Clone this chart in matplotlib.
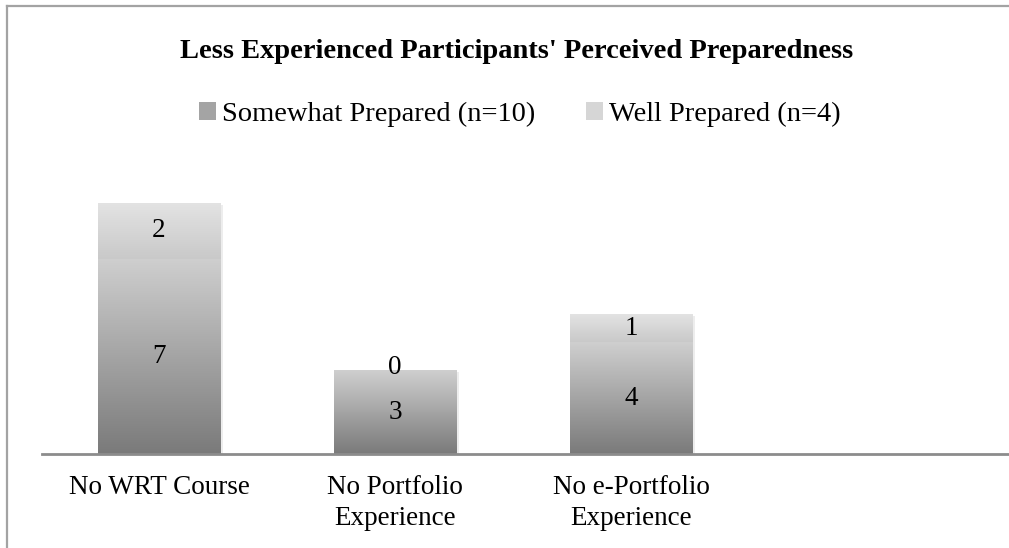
import numpy as np
import matplotlib.pyplot as plt
from matplotlib.colors import LinearSegmentedColormap
from matplotlib.patches import Patch, Rectangle
from matplotlib.lines import Line2D

categories = ['No WRT Course', 'No Portfolio\nExperience', 'No e-Portfolio\nExperience']
somewhat = [7, 3, 4]
well = [2, 0, 1]
series_names = ['Somewhat Prepared (n=10)', 'Well Prepared (n=4)']

plt.rcParams['font.family'] = ['Liberation Serif', 'DejaVu Serif']

W, H = 1009, 548
fig = plt.figure(figsize=(W / 100, H / 100), dpi=100)

# chart frame, cut off at the right and bottom
fig.add_artist(Line2D([7 / W, 1], [1 - 6 / H, 1 - 6 / H], color='#a3a3a3', lw=1.6))
fig.add_artist(Line2D([7 / W, 7 / W], [0, 1 - 6 / H], color='#a3a3a3', lw=1.6))

ax = fig.add_axes([42 / W, (H - 454) / H, 1 - 42 / W, (454 - 175) / H])

dark_cmap = LinearSegmentedColormap.from_list('dark', ['#7a7a7a', '#cfcfcf'])
light_cmap = LinearSegmentedColormap.from_list('light', ['#c9c9c9', '#e3e3e3'])
grad = np.linspace(0, 1, 256).reshape(-1, 1)

x = np.arange(len(categories))
bw = 0.52


def grad_bar(xc, y0, h, cmap):
    if h <= 0:
        return
    # soft shadow
    ax.add_patch(Rectangle((xc - bw / 2 + 0.01, y0 - 0.07), bw, h, color='#000000',
                           alpha=0.07, lw=0, zorder=1))
    ax.imshow(grad, extent=[xc - bw / 2, xc + bw / 2, y0, y0 + h], origin='lower',
              aspect='auto', cmap=cmap, zorder=2, interpolation='bilinear')


for i in range(len(categories)):
    grad_bar(x[i], 0, somewhat[i], dark_cmap)
    grad_bar(x[i], somewhat[i], well[i], light_cmap)
    ax.text(x[i], somewhat[i] / 2, str(somewhat[i]), ha='center', va='center', fontsize=19.5, zorder=3)
    ax.text(x[i], somewhat[i] + well[i] / 2 + (0.0 if well[i] else 0.1), str(well[i]),
            ha='center', va='center', fontsize=19.5, zorder=3)

ax.set_xlim((42 - 159) / 236, (1009 - 159) / 236)
ax.set_ylim(0, 10)
for s in ['top', 'right', 'left']:
    ax.spines[s].set_visible(False)
ax.spines['bottom'].set_color('#8c8c8c')
ax.spines['bottom'].set_linewidth(2)
ax.set_yticks([])
ax.set_xticks(x)
ax.set_xticklabels(categories, fontsize=19.5, linespacing=1.3)
ax.tick_params(axis='x', length=0, pad=15)

fig.text(0.512, 1 - 58 / H, "Less Experienced Participants' Perceived Preparedness",
         ha='center', va='baseline', fontsize=20.5, fontweight='bold')

handles = [Patch(facecolor='#a4a4a4', edgecolor='none'),
           Patch(facecolor='#d6d6d6', edgecolor='none')]
fig.legend(handles, series_names, loc='center', bbox_to_anchor=(0.515, 1 - 114 / H),
           ncol=2, frameon=False, fontsize=20.5, handlelength=0.6, handleheight=0.6,
           handletextpad=0.2, columnspacing=1.8)

fig.savefig('out.png', dpi=100)
